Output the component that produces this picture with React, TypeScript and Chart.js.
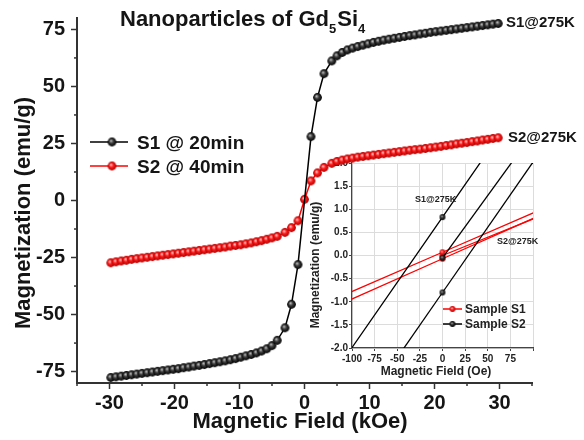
import React, { useEffect, useRef } from 'react';
import { Chart, registerables } from 'chart.js';

Chart.register(...registerables);

const FONT = '"Liberation Sans", Arial, Helvetica, sans-serif';

// ---------- main chart data (field in kOe, magnetization in emu/g) ----------
const s1Field = [
  -29.8, -29, -28.2, -27.4, -26.6, -25.8, -25, -24.2, -23.4, -22.6, -21.8, -21, -20.2, -19.4, -18.6, -17.8, -17,
  -16.2, -15.4, -14.6, -13.8, -13, -12.2, -11.4, -10.6, -9.8, -9, -8.2, -7.4, -6.6, -5.8, -5, -4.2, -3, -2, -1,
  1, 2, 3, 4.2, 5, 5.8, 6.6, 7.4, 8.2, 9, 9.8, 10.6, 11.4, 12.2, 13, 13.8, 14.6, 15.4, 16.2, 17, 17.8, 18.6,
  19.4, 20.2, 21, 21.8, 22.6, 23.4, 24.2, 25, 25.8, 26.6, 27.4, 28.2, 29, 29.8,
];
const s1Moment = [
  -77.6, -77.3, -77.0, -76.7, -76.4, -76.1, -75.8, -75.5, -75.2, -74.9, -74.6, -74.3, -74.0, -73.7, -73.3, -73.0, -72.6,
  -72.3, -71.9, -71.5, -71.1, -70.7, -70.3, -69.8, -69.3, -68.7, -68.1, -67.5, -66.8, -66.0, -65.0, -63.6, -61.3, -55.8, -45.5, -28.1,
  28.0, 45.2, 55.6, 61.2, 63.4, 64.9, 66.0, 66.8, 67.5, 68.1, 68.7, 69.3, 69.8, 70.3, 70.7, 71.1, 71.5, 71.9, 72.3, 72.6, 73.0, 73.3,
  73.7, 74.0, 74.3, 74.6, 74.9, 75.2, 75.5, 75.8, 76.1, 76.4, 76.7, 77.0, 77.3, 77.6,
];
const s2Field = [
  -29.8, -29, -28.2, -27.4, -26.6, -25.8, -25, -24.2, -23.4, -22.6, -21.8, -21, -20.2, -19.4, -18.6, -17.8, -17,
  -16.2, -15.4, -14.6, -13.8, -13, -12.2, -11.4, -10.6, -9.8, -9, -8.2, -7.4, -6.6, -5.8, -5, -4.2, -3, -2, -1, 0,
  1, 2, 3, 4.2, 5, 5.8, 6.6, 7.4, 8.2, 9, 9.8, 10.6, 11.4, 12.2, 13, 13.8, 14.6, 15.4, 16.2, 17, 17.8, 18.6,
  19.4, 20.2, 21, 21.8, 22.6, 23.4, 24.2, 25, 25.8, 26.6, 27.4, 28.2, 29, 29.8,
];
const s2Moment = [
  -27.3, -26.9, -26.5, -26.2, -25.8, -25.5, -25.2, -24.9, -24.6, -24.3, -24.0, -23.7, -23.4, -23.1, -22.8, -22.5, -22.2,
  -21.9, -21.6, -21.3, -21.0, -20.7, -20.4, -20.0, -19.7, -19.4, -19.0, -18.6, -18.1, -17.6, -17.0, -16.4, -15.7, -14.0, -11.9, -8.9, 0.5,
  8.6, 12.1, 14.5, 16.3, 17.1, 17.7, 18.2, 18.6, 19.0, 19.3, 19.6, 19.9, 20.2, 20.5, 20.8, 21.1, 21.4, 21.7, 22.0, 22.3, 22.5, 22.8,
  23.1, 23.4, 23.7, 24.1, 24.4, 24.8, 25.1, 25.4, 25.8, 26.1, 26.5, 26.8, 27.2, 27.5,
];
const mainXTicks = [-30, -20, -10, 0, 10, 20, 30];
const mainYTicks = [-75, -50, -25, 0, 25, 50, 75];
const mainXMinor = [-35, -25, -15, -5, 5, 15, 25, 35];
const mainYMinor = [-62.5, -37.5, -12.5, 12.5, 37.5, 62.5];

// ---------- inset data (field in Oe, magnetization in emu/g) ----------
const loopField = [-1000, 0, 1000];
const virginField = [0, 1000];
const blackUpper = [-27.37, 0.83, 29.03];
const blackLower = [-29.0, -0.8, 27.4];
const blackVirgin = [-0.05, 26.9];
const redUpper = [-8.43, 0.07, 8.57];
const redLower = [-8.77, -0.07, 8.63];
const redVirgin = [0.0, 7.9];
const insetXTicks = [-100, -75, -50, -25, 0, 25, 50, 75, 100];
const insetYTicks = [-2, -1.5, -1, -0.5, 0, 0.5, 1, 1.5, 2];

function makeBall(r: number, light: string, mid: string, dark: string) {
  const size = Math.ceil(r * 2) + 2;
  const c = document.createElement('canvas');
  c.width = size;
  c.height = size;
  const ctx = c.getContext('2d')!;
  const cx = size / 2;
  const cy = size / 2;
  const g = ctx.createRadialGradient(cx - r * 0.25, cy - r * 0.3, r * 0.05, cx, cy, r);
  g.addColorStop(0, light);
  g.addColorStop(0.45, mid);
  g.addColorStop(1, dark);
  ctx.fillStyle = g;
  ctx.beginPath();
  ctx.arc(cx, cy, r, 0, Math.PI * 2);
  ctx.fill();
  return c;
}

const pts = (xs: number[], ys: number[]) => xs.map((x, i) => ({ x, y: ys[i] }));
const setTicks = (values: number[]) => (s: any) => {
  s.ticks = values.map((value) => ({ value }));
};

export default function App() {
  const mainRef = useRef<HTMLCanvasElement>(null);
  const insetRef = useRef<HTMLCanvasElement>(null);

  useEffect(() => {
    document.body.style.margin = '0';
    const blackBall = makeBall(4.4, '#bdbdbd', '#3a3a3a', '#000000');
    const redBall = makeBall(4.4, '#ffc8c8', '#ff1a1a', '#b00000');
    const blackBallS = makeBall(2.9, '#aaaaaa', '#333333', '#000000');
    const redBallS = makeBall(2.9, '#ffc0c0', '#ff2020', '#c00000');

    const mainText = {
      id: 'mainText',
      afterDraw(chart: any) {
        const { ctx, chartArea, scales } = chart;
        ctx.save();
        // minor ticks
        ctx.strokeStyle = '#333';
        ctx.lineWidth = 1.5;
        mainXMinor.forEach((v) => {
          const px = scales.x.getPixelForValue(v);
          ctx.beginPath();
          ctx.moveTo(px, chartArea.bottom);
          ctx.lineTo(px, chartArea.bottom + 3);
          ctx.stroke();
        });
        mainYMinor.forEach((v) => {
          const py = scales.y.getPixelForValue(v);
          ctx.beginPath();
          ctx.moveTo(chartArea.left, py);
          ctx.lineTo(chartArea.left - 3, py);
          ctx.stroke();
        });
        ctx.fillStyle = '#151515';
        ctx.textBaseline = 'alphabetic';
        ctx.textAlign = 'left';
        // title
        let x = 120;
        const by = 26;
        const big = `bold 22px ${FONT}`;
        const sub = `bold 13px ${FONT}`;
        ctx.font = big;
        ctx.fillText('Nanoparticles of Gd', x, by);
        x += ctx.measureText('Nanoparticles of Gd').width;
        ctx.font = sub;
        ctx.fillText('5', x, by + 7);
        x += ctx.measureText('5').width + 1;
        ctx.font = big;
        ctx.fillText('Si', x, by);
        x += ctx.measureText('Si').width;
        ctx.font = sub;
        ctx.fillText('4', x, by + 7);
        // annotations
        ctx.font = `bold 15px ${FONT}`;
        ctx.fillText('S1@275K', 506, 27);
        ctx.fillText('S2@275K', 508, 142);
        // legend
        const legend = [
          { label: 'S1 @ 20min', color: '#000', ball: blackBall, y: 142 },
          { label: 'S2 @ 40min', color: '#f00', ball: redBall, y: 166 },
        ];
        ctx.font = `bold 19px ${FONT}`;
        legend.forEach((l) => {
          ctx.strokeStyle = l.color;
          ctx.lineWidth = 1.5;
          ctx.beginPath();
          ctx.moveTo(90, l.y);
          ctx.lineTo(128, l.y);
          ctx.stroke();
          ctx.drawImage(l.ball, 112 - l.ball.width / 2, l.y - l.ball.height / 2);
          ctx.fillStyle = '#151515';
          ctx.fillText(l.label, 137, l.y + 6.5);
        });
        // axis titles
        ctx.font = `bold 22px ${FONT}`;
        ctx.textAlign = 'center';
        ctx.fillText('Magnetic Field (kOe)', 300, 428);
        ctx.save();
        ctx.translate(30, 213);
        ctx.rotate(-Math.PI / 2);
        ctx.fillText('Magnetization (emu/g)', 0, 0);
        ctx.restore();
        ctx.restore();
      },
    };

    const tickFont = { family: FONT, size: 20, weight: 'bold' as const };
    const main = new Chart(mainRef.current!, {
      type: 'scatter',
      data: {
        datasets: [
          {
            label: 'S1 @ 20min',
            data: pts(s1Field, s1Moment),
            showLine: true,
            borderColor: '#000',
            borderWidth: 1.5,
            pointStyle: blackBall as any,
            pointRadius: 4.4,
            pointHoverRadius: 4.4,
          },
          {
            label: 'S2 @ 40min',
            data: pts(s2Field, s2Moment),
            showLine: true,
            borderColor: '#f00',
            borderWidth: 1.5,
            pointStyle: redBall as any,
            pointRadius: 4.4,
            pointHoverRadius: 4.4,
          },
        ],
      },
      options: {
        responsive: false,
        animation: false,
        events: [],
        layout: { padding: { left: 0, right: 52, top: 16, bottom: 0 } },
        plugins: { legend: { display: false }, tooltip: { enabled: false } },
        scales: {
          x: {
            type: 'linear',
            min: -35,
            max: 35,
            afterBuildTicks: setTicks(mainXTicks),
            afterFit: (s: any) => {
              s.height = 57;
            },
            border: { display: true, color: '#333', width: 2 },
            grid: { display: true, drawOnChartArea: false, drawTicks: true, tickLength: 6, tickColor: '#333', tickWidth: 1.5 },
            ticks: { font: tickFont, color: '#151515', padding: 2, maxRotation: 0, autoSkip: false },
          },
          y: {
            type: 'linear',
            min: -80,
            max: 80,
            afterBuildTicks: setTicks(mainYTicks),
            afterFit: (s: any) => {
              s.width = 77;
            },
            border: { display: true, color: '#333', width: 2 },
            grid: { display: true, drawOnChartArea: false, drawTicks: true, tickLength: 6, tickColor: '#333', tickWidth: 1.5 },
            ticks: { font: tickFont, color: '#151515', padding: 6, autoSkip: false },
          },
        },
      },
      plugins: [mainText],
    });

    const insetText = {
      id: 'insetText',
      afterDraw(chart: any) {
        const { ctx } = chart;
        ctx.save();
        ctx.fillStyle = '#222';
        ctx.textBaseline = 'middle';
        ctx.textAlign = 'left';
        ctx.font = `bold 9px ${FONT}`;
        ctx.fillText('S1@275K', 115, 50);
        ctx.fillText('S2@275K', 197, 92);
        const legend = [
          { label: 'Sample S1', color: '#f00', ball: redBallS, y: 159 },
          { label: 'Sample S2', color: '#000', ball: blackBallS, y: 174 },
        ];
        ctx.font = `bold 12px ${FONT}`;
        legend.forEach((l) => {
          ctx.strokeStyle = l.color;
          ctx.lineWidth = 1.5;
          ctx.beginPath();
          ctx.moveTo(143, l.y);
          ctx.lineTo(162, l.y);
          ctx.stroke();
          ctx.drawImage(l.ball, 152.5 - l.ball.width / 2, l.y - l.ball.height / 2);
          ctx.fillStyle = '#222';
          ctx.fillText(l.label, 165, l.y + 0.5);
        });
        ctx.textAlign = 'center';
        ctx.fillText('Magnetic Field (Oe)', 136, 222);
        ctx.save();
        ctx.translate(16, 115);
        ctx.rotate(-Math.PI / 2);
        ctx.fillText('Magnetization (emu/g)', 0, 0);
        ctx.restore();
        ctx.restore();
      },
    };

    const insetTick = { family: FONT, size: 10, weight: 'bold' as const };
    const lineDs = (label: string, xs: number[], ys: number[], color: string, ball: HTMLCanvasElement) => ({
      label,
      data: pts(xs, ys),
      showLine: true,
      borderColor: color,
      borderWidth: 1.3,
      pointStyle: ball as any,
      pointRadius: 2.9,
      pointHoverRadius: 2.9,
    });
    const inset = new Chart(insetRef.current!, {
      type: 'scatter',
      data: {
        datasets: [
          lineDs('Sample S2', loopField, blackUpper, '#000', blackBallS),
          lineDs('Sample S2 lower', loopField, blackLower, '#000', blackBallS),
          lineDs('Sample S2 virgin', virginField, blackVirgin, '#000', blackBallS),
          lineDs('Sample S1', loopField, redUpper, '#f00', redBallS),
          lineDs('Sample S1 lower', loopField, redLower, '#f00', redBallS),
          lineDs('Sample S1 virgin', virginField, redVirgin, '#f00', redBallS),
        ],
      },
      options: {
        responsive: false,
        animation: false,
        events: [],
        layout: { padding: { left: 0, right: 12, top: 13, bottom: 0 } },
        plugins: { legend: { display: false }, tooltip: { enabled: false } },
        scales: {
          x: {
            type: 'linear',
            min: -100,
            max: 100,
            afterBuildTicks: setTicks(insetXTicks),
            afterFit: (s: any) => {
              s.height = 37;
            },
            border: { display: true, color: '#444', width: 1.2 },
            grid: { color: '#dcdcdc', lineWidth: 1, tickLength: 3, tickColor: '#444' },
            ticks: {
              font: insetTick,
              color: '#222',
              padding: 2,
              maxRotation: 0,
              autoSkip: false,
              callback: (v: any) => (Number(v) >= 100 ? '' : String(v)),
            },
          },
          y: {
            type: 'linear',
            min: -2,
            max: 2,
            afterBuildTicks: setTicks(insetYTicks),
            afterFit: (s: any) => {
              s.width = 52;
            },
            border: { display: true, color: '#444', width: 1.2 },
            grid: { color: '#dcdcdc', lineWidth: 1, tickLength: 3, tickColor: '#444' },
            ticks: {
              font: insetTick,
              color: '#222',
              padding: 1,
              autoSkip: false,
              callback: (v: any) => Number(v).toFixed(1),
            },
          },
        },
      },
      plugins: [insetText],
    });

    return () => {
      main.destroy();
      inset.destroy();
    };
  }, []);

  return (
    <div style={{ position: 'relative', width: 584, height: 440, background: '#fff' }}>
      <canvas
        ref={insetRef}
        width={245}
        height={235}
        style={{ position: 'absolute', left: 300, top: 150, zIndex: 0 }}
      />
      <canvas
        ref={mainRef}
        width={584}
        height={440}
        style={{ position: 'absolute', left: 0, top: 0, zIndex: 1 }}
      />
    </div>
  );
}
